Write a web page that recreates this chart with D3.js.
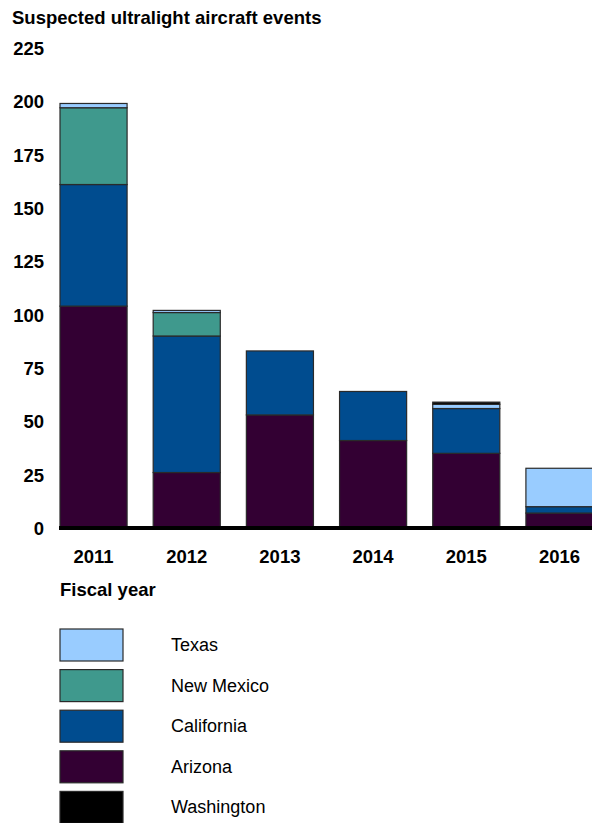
<!DOCTYPE html>
<html>
<head>
<meta charset="utf-8">
<script src="https://cdn.jsdelivr.net/npm/d3@7"></script>
<style>
  body { margin: 0; background: #fff; }
  svg { display: block; font-family: "Liberation Sans", Arial, sans-serif; }
</style>
</head>
<body>
<div id="chart"></div>
<script>
// data
let years = ["2011", "2012", "2013", "2014", "2015", "2016"];
let arizona    = [104, 26, 53, 41, 35, 7];
let california = [57, 64, 30, 23, 21, 3];
let newMexico  = [36, 11, 0, 0, 0, 0];
let texas      = [2, 1, 0, 0, 2, 18];
let washington = [0, 0, 0, 0, 1, 0];
let yTicks = [0, 25, 50, 75, 100, 125, 150, 175, 200, 225];

let states = ["Arizona", "California", "New Mexico", "Texas", "Washington"];
let legendOrder = ["Texas", "New Mexico", "California", "Arizona", "Washington"];
let colors = {
  "Texas": "#99ccff",
  "New Mexico": "#3f998d",
  "California": "#004c8f",
  "Arizona": "#330033",
  "Washington": "#000000"
};

let width = 592;
let height = 823;
let boldSize = 18.5;

let svg = d3.select("#chart")
            .append("svg")
            .attr("width", width)
            .attr("height", height);

let rows = years.map((y, i) => ({
  year: y,
  "Arizona": arizona[i],
  "California": california[i],
  "New Mexico": newMexico[i],
  "Texas": texas[i],
  "Washington": washington[i]
}));

let stacked = d3.stack().keys(states)(rows);

let xScale = d3.scaleBand()
               .domain(years)
               .range([60, 593])
               .paddingInner(0.28)
               .paddingOuter(0);

let yScale = d3.scaleLinear()
               .domain([0, 225])
               .range([528, 48]);

// title
svg.append("text")
   .attr("x", 12)
   .attr("y", 24)
   .attr("font-size", boldSize)
   .attr("font-weight", "bold")
   .text("Suspected ultralight aircraft events");

// y tick labels
svg.selectAll(".ytick")
   .data(yTicks)
   .enter()
   .append("text")
   .attr("class", "ytick")
   .attr("x", 44)
   .attr("y", d => yScale(d) + 7)
   .attr("text-anchor", "end")
   .attr("font-size", boldSize)
   .attr("font-weight", "bold")
   .text(d => d);

// bars
svg.selectAll(".layer")
   .data(stacked)
   .enter()
   .append("g")
   .attr("class", "layer")
   .attr("fill", d => colors[d.key])
   .selectAll("rect")
   .data(d => d.filter(s => s[1] - s[0] > 0))
   .enter()
   .append("rect")
   .attr("x", d => xScale(d.data.year))
   .attr("y", d => yScale(d[1]))
   .attr("width", xScale.bandwidth())
   .attr("height", d => yScale(d[0]) - yScale(d[1]))
   .attr("stroke", "#2a2a2a")
   .attr("stroke-width", 1.2);

// baseline
svg.append("line")
   .attr("x1", 59)
   .attr("x2", width)
   .attr("y1", yScale(0))
   .attr("y2", yScale(0))
   .attr("stroke", "#000")
   .attr("stroke-width", 4);

// x labels
svg.selectAll(".xlab")
   .data(years)
   .enter()
   .append("text")
   .attr("class", "xlab")
   .attr("x", d => xScale(d) + xScale.bandwidth() / 2)
   .attr("y", 563)
   .attr("text-anchor", "middle")
   .attr("font-size", boldSize)
   .attr("font-weight", "bold")
   .text(d => d);

svg.append("text")
   .attr("x", 60)
   .attr("y", 596)
   .attr("font-size", boldSize)
   .attr("font-weight", "bold")
   .text("Fiscal year");

// legend
let legend = svg.selectAll(".legend")
   .data(legendOrder)
   .enter()
   .append("g")
   .attr("class", "legend")
   .attr("transform", (d, i) => `translate(0, ${629 + i * 40.6})`);

legend.append("rect")
   .attr("x", 60)
   .attr("y", 0)
   .attr("width", 63)
   .attr("height", 32)
   .attr("fill", d => colors[d])
   .attr("stroke", "#2a2a2a")
   .attr("stroke-width", 1.2);

legend.append("text")
   .attr("x", 171)
   .attr("y", 22)
   .attr("font-size", 18)
   .text(d => d);
</script>
</body>
</html>
